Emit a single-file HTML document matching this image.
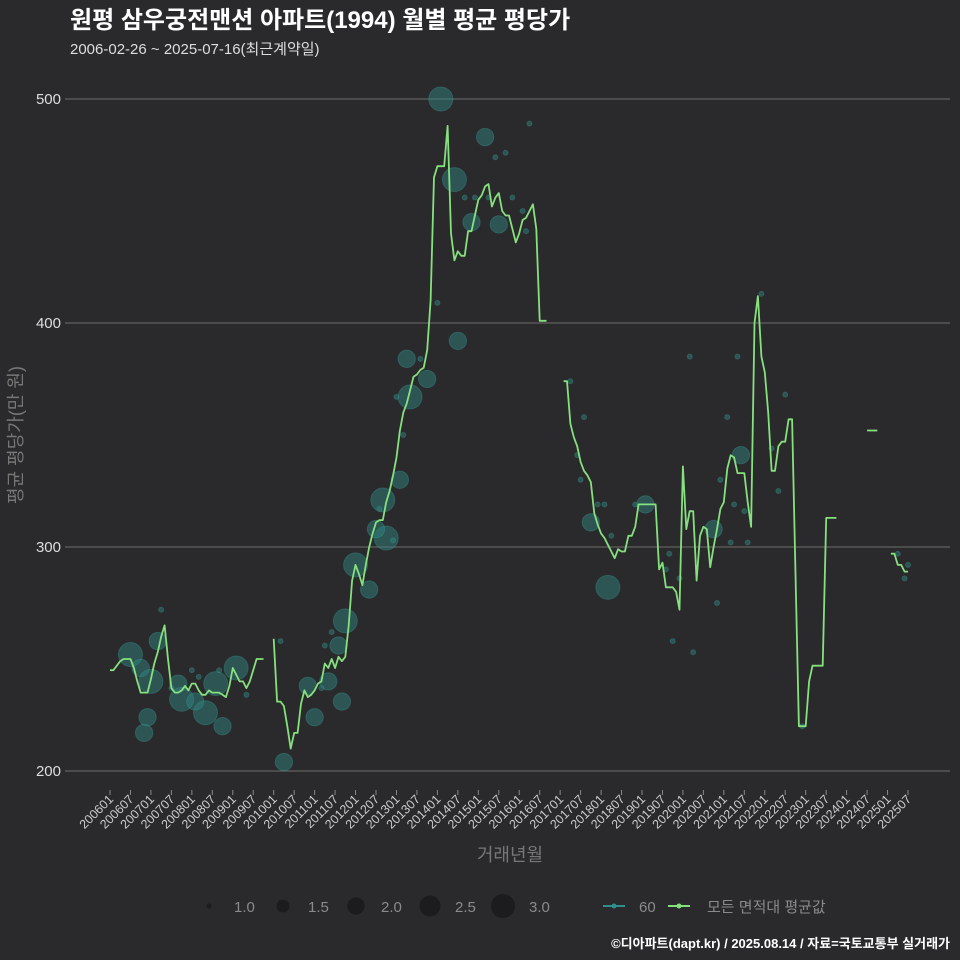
<!DOCTYPE html>
<html><head><meta charset="utf-8"><style>
body{margin:0;background:#2a2a2c;}
svg{display:block;font-family:"Liberation Sans","Noto Sans CJK KR",sans-serif;}
</style></head><body>
<svg id="chart" width="960" height="960" viewBox="0 0 960 960">
<rect width="960" height="960" fill="#2a2a2c"/>
<text x="70" y="28" font-size="24" font-weight="bold" fill="#ffffff">원평 삼우궁전맨션 아파트(1994) 월별 평균 평당가</text>
<text x="70" y="54" font-size="15" fill="#dddddd">2006-02-26 ~ 2025-07-16(최근계약일)</text>
<g id="grid"></g>
<g id="bubbles"></g>
<g id="line"></g>
<g id="xaxis"></g>
<text transform="translate(22,435) rotate(-90)" text-anchor="middle" font-size="18" fill="#777777">평균 평당가(만 원)</text>
<text x="510" y="861" text-anchor="middle" font-size="18" fill="#777777">거래년월</text>
<g font-size="15" fill="#8a8a8a">
<circle cx="209" cy="906" r="2.5" fill="#1c1c1e"/>
<text x="234" y="912">1.0</text>
<circle cx="283" cy="906" r="6.4" fill="#1c1c1e"/>
<text x="308" y="912">1.5</text>
<circle cx="356" cy="906" r="8.7" fill="#1c1c1e"/>
<text x="381" y="912">2.0</text>
<circle cx="430" cy="906" r="10.5" fill="#1c1c1e"/>
<text x="455" y="912">2.5</text>
<circle cx="503" cy="906" r="12" fill="#1c1c1e"/>
<text x="529" y="912">3.0</text>
<line x1="603" y1="906" x2="625" y2="906" stroke="#2f8f8c" stroke-width="2"/>
<circle cx="614" cy="906" r="2.5" fill="#2f8f8c"/>
<text x="639" y="912">60</text>
<line x1="668" y1="906" x2="690" y2="906" stroke="#86e07e" stroke-width="2"/>
<circle cx="679" cy="906" r="2.5" fill="#86e07e"/>
<text x="707" y="912">모든 면적대 평균값</text>
</g>
<text x="950" y="948" text-anchor="end" font-size="13" font-weight="bold" fill="#ffffff">©디아파트(dapt.kr) / 2025.08.14 / 자료=국토교통부 실거래가</text>
</svg>
<script>
const startYear = 2006;
const yTicks = [200, 300, 400, 500];
const avgValues = [
245,245,247,249,250,250,250,246,240,235,235,235,
241,248,253,260,265,250,237,235,235,236,238,236,
239,239,236,234,234,236,235,235,235,234,233,238,
246,243,240,240,237,240,245,250,250,250,null,null,
259,231,231,229,220,210,217,217,230,236,233,234,
236,239,240,248,246,250,246,251,249,251,265,285,
292,288,283,292,300,306,311,312,312,320,325,332,
340,352,360,364,370,376,377,379,380,388,410,465,
470,470,470,488,440,428,432,430,430,441,441,448,
455,457,461,462,452,456,458,450,448,448,442,436,
440,446,447,450,453,442,401,401,401,null,null,null,
null,374,374,355,349,345,338,334,332,329,315,310,
306,304,301,298,295,299,298,298,305,305,309,319,
319,319,319,319,319,290,293,282,282,282,280,272,
336,308,316,316,285,305,309,308,291,300,308,317,
320,335,341,340,333,333,333,320,309,400,412,385,
378,360,334,334,345,347,347,357,357,288,220,220,
220,240,247,247,247,247,313,313,313,313,null,null,
null,null,null,null,null,null,352,352,352,352,null,null,
null,297,297,292,292,289,289
];
const bubbleMonth = [97,110,101,106,114,102,87,88,93,85,80,81,78,72,76,69,67,64,68,58,60,51,6,9,14,12,11,10,20,21,25,28,31,33,37,141,146,157,177,185,
15,50,135,139,137,138,143,145,147,154,164,163,167,165,171,170,184,181,179,183,186,182,187,178,191,198,194,196,203,231,234,233,123,116,113,104,107,111,118,121,122,96,91,84,86,79,83,65,63,62,26,24,32,40,18];
const bubbleValue = [500,483,464,445,444,392,384,367,375,330,321,304,308,292,281,267,256,240,231,238,224,204,252,246,258,240,224,217,239,232,231,226,239,220,246,311,282,319,308,341,
272,258,374,358,341,330,319,319,305,319,297,290,286,258,253,385,385,358,330,319,316,302,302,275,413,368,344,325,220,297,292,286,489,476,474,456,456,456,456,450,441,409,384,367,350,317,303,262,256,237,242,245,245,234,237];
const bubbleCount = [3,2,3,2,2,2,2,3,2,2,3,3,2,3,2,3,2,2,2,2,2,2,3,2,2,3,2,2,2,3,2,3,3,2,3,2,3,2,2,2,
1,1,1,1,1,1,1,1,1,1,1,1,1,1,1,1,1,1,1,1,1,1,1,1,1,1,1,1,1,1,1,1,1,1,1,1,1,1,1,1,1,1,1,1,1,1,1,1,1,1,1,1,1,1,1];

const NS = "http://www.w3.org/2000/svg";
const lastM = 234;
function xScale(m){ return 110 + m * (798 / lastM); }
function yScale(v){ return 771 - (v - 200) * 2.24; }
function rScale(c){ return Math.sqrt(6.25 + 68.9 * (c - 1)); }
function mk(tag, attrs, parent){ const e = document.createElementNS(NS, tag); for (const k in attrs) e.setAttribute(k, attrs[k]); parent.appendChild(e); return e; }

const grid = document.getElementById('grid');
yTicks.forEach(v => {
  const l = mk('line', {x1:65, x2:950, y1:yScale(v), y2:yScale(v), stroke:'#6e6e6e', 'stroke-width':1}, grid);
  
  
  const t = mk('text', {x:61, y:yScale(v)+5, 'text-anchor':'end', 'font-size':15, fill:'#dddddd'}, grid);
  
  
  t.textContent = v;
});

const xa = document.getElementById('xaxis');
for (let m = 0; m <= lastM; m += 6) {
  const x = xScale(m);
  const tk = mk('line', {x1:x, x2:x, y1:790, y2:795, stroke:'#888', 'stroke-width':1}, xa);
  
  
  const yr = startYear + Math.floor(m / 12), mo = (m % 12) + 1;
  const t = mk('text', {transform:`translate(${x+4},800) rotate(-45)`, 'text-anchor':'end', 'font-size':12.5, fill:'#cccccc'}, xa);
  
  
  t.textContent = yr + String(mo).padStart(2, '0');
}

const bg = document.getElementById('bubbles');
bubbleMonth.forEach((m, i) => {
  const c = mk('circle', {cx:xScale(m), cy:yScale(bubbleValue[i]), r:rScale(bubbleCount[i]), fill:'#2f8a86', 'fill-opacity':0.45, stroke:'#3a9a95', 'stroke-opacity':0.35}, bg);
  
  
});

const lg = document.getElementById('line');
let seg = [];
function flush(){
  if (seg.length > 1) {
    const p = mk('polyline', {points:seg.join(' '), fill:'none', stroke:'#86e07e', 'stroke-width':1.8, 'stroke-linejoin':'round'}, lg);
    
    
  } else if (seg.length === 1) {
    const [px, py] = seg[0].split(',').map(Number);
    const p = mk('line', {x1:px-3, x2:px+3, y1:py, y2:py, stroke:'#86e07e', 'stroke-width':1.8}, lg);
    
    
  }
  seg = [];
}
avgValues.forEach((v, m) => {
  if (v === null) { flush(); return; }
  seg.push(xScale(m).toFixed(1) + ',' + yScale(v).toFixed(1));
});
flush();
</script>
</body></html>
